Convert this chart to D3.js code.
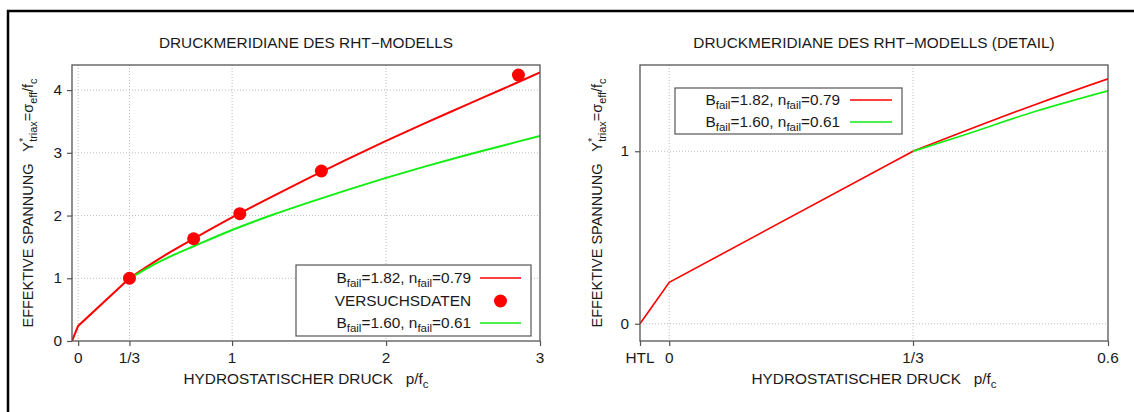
<!DOCTYPE html>
<html>
<head>
<meta charset="utf-8">
<script src="https://cdn.jsdelivr.net/npm/d3@7"></script>
<style>
  body { margin: 0; background: #fff; }
  text { font-family: "Liberation Sans", Arial, sans-serif; fill: #1a1a1a; white-space: pre; }
</style>
</head>
<body>
<div id="viz-container"></div>
<script>
// Werte
const HTL = -0.04;
const pressure = [HTL, 0, 1 / 3, 0.4, 0.5, 0.6, 0.75, 1, 1.25, 1.5, 1.75, 2, 2.25, 2.5, 2.75, 3];
const redMeridian = [0, 0.24, 1, 1.11, 1.27, 1.42, 1.63, 1.97, 2.29, 2.6, 2.9, 3.19, 3.47, 3.74, 4.01, 4.28];
const greenMeridian = [null, null, 1, 1.09, 1.23, 1.35, 1.51, 1.77, 2.0, 2.21, 2.41, 2.6, 2.78, 2.95, 3.11, 3.27];
const testPressure = [1 / 3, 0.75, 1.05, 1.58, 2.86];
const testStress = [1.0, 1.63, 2.03, 2.71, 4.24];

const leftXTicks = [0, 1 / 3, 1, 2, 3];
const leftXLabels = ['0', '1/3', '1', '2', '3'];
const leftYTicks = [0, 1, 2, 3, 4];
const rightXTicks = [HTL, 0, 1 / 3, 0.6];
const rightXLabels = ['HTL', '0', '1/3', '0.6'];
const rightYTicks = [0, 1];

const RED = '#ff0000';
const GREEN = '#11ee11';
const FS = 14.5;      // Schriftgröße
const SX = 1.06;      // Text im Original leicht horizontal gestreckt
const DOT_R = 6.5;

const svg = d3.select('#viz-container').append('svg')
  .attr('width', 1134).attr('height', 412);

// äußerer Rahmen
svg.append('rect')
  .attr('x', 8).attr('y', 11).attr('width', 1200).attr('height', 500)
  .style('fill', 'none').style('stroke', '#000').style('stroke-width', 2.5);

// Text mit Hoch-/Tiefstellungen
function richText(parent, x, y, parts, anchor, rotate) {
  const g = parent.append('g')
    .attr('transform', `translate(${x},${y}) scale(${SX},1)` + (rotate ? ' rotate(-90)' : ''));
  const text = g.append('text')
    .attr('xml:space', 'preserve')
    .attr('text-anchor', anchor || 'middle').style('font-size', FS + 'px');
  let shift = 0;
  parts.forEach(p => {
    const part = typeof p === 'string' ? { t: p } : p;
    const off = part.sub ? 4 : part.sup ? -6 : 0;
    const ts = text.append('tspan').attr('dy', off - shift).text(part.t);
    if (part.sub || part.sup) ts.style('font-size', (FS * 0.75) + 'px');
    if (part.dx) ts.attr('dx', part.dx);
    shift = off;
  });
  return text;
}

const yLabelParts = [
  'EFFEKTIVE SPANNUNG   Y', { t: '*', sup: true }, { t: 'triax', sub: true, dx: -4 },
  '=σ', { t: 'eff', sub: true }, '/f', { t: 'c', sub: true }
];
const xLabelParts = ['HYDROSTATISCHER DRUCK   p/f', { t: 'c', sub: true }];

function drawPanel(cfg) {
  const x = d3.scaleLinear().domain(cfg.xDomain).range([cfg.left, cfg.right]);
  const y = d3.scaleLinear().domain(cfg.yDomain).range([cfg.bottom, cfg.top]);
  const g = svg.append('g');

  const clipId = 'clip' + cfg.left;
  g.append('clipPath').attr('id', clipId).append('rect')
    .attr('x', cfg.left).attr('y', cfg.top)
    .attr('width', cfg.right - cfg.left).attr('height', cfg.bottom - cfg.top);

  // Gitter
  const grid = g.append('g')
    .style('stroke', '#bdbdbd').style('stroke-width', 1).style('stroke-dasharray', '1,2');
  cfg.xTicks.forEach(v => {
    const px = x(v);
    if (px <= cfg.left + 1 || px >= cfg.right - 1) return;
    grid.append('line').attr('x1', px).attr('x2', px).attr('y1', cfg.top).attr('y2', cfg.bottom);
  });
  cfg.yTicks.forEach(v => {
    const py = y(v);
    if (py >= cfg.bottom - 1 || py <= cfg.top + 1) return;
    grid.append('line').attr('x1', cfg.left).attr('x2', cfg.right).attr('y1', py).attr('y2', py);
  });

  // Achsen
  const xAxis = g.append('g').attr('transform', `translate(0,${cfg.bottom})`)
    .call(d3.axisBottom(x).tickValues(cfg.xTicks).tickFormat('').tickSize(5).tickSizeOuter(0));
  const yAxis = g.append('g').attr('transform', `translate(${cfg.left},0)`)
    .call(d3.axisLeft(y).tickValues(cfg.yTicks).tickFormat('').tickSize(5).tickSizeOuter(0));
  [xAxis, yAxis].forEach(a => {
    a.select('.domain').remove();
    a.selectAll('line').style('stroke', '#555').style('stroke-width', 1.2);
  });

  cfg.xTicks.forEach((v, i) => richText(g, x(v), 363, [cfg.xLabels[i]], 'middle'));
  cfg.yTicks.forEach(v => richText(g, cfg.tickLabelX, y(v) + 5, [String(v)], 'end'));

  // Kurven
  const curves = g.append('g').attr('clip-path', `url(#${clipId})`);
  const linePart = d3.line().x(d => x(d[0])).y(d => y(d[1])).curve(d3.curveLinear);
  const curvePart = d3.line().x(d => x(d[0])).y(d => y(d[1])).curve(d3.curveMonotoneX);
  const drawSeries = (values, color) => {
    const pts = pressure.map((p, i) => [p, values[i]]).filter(d => d[1] !== null);
    const lin = pts.filter(d => d[0] <= 1 / 3 + 1e-9);
    const cur = pts.filter(d => d[0] >= 1 / 3 - 1e-9);
    [[lin, linePart], [cur, curvePart]].forEach(([data, gen]) => {
      if (data.length < 2) return;
      curves.append('path').attr('d', gen(data))
        .style('fill', 'none').style('stroke', color).style('stroke-width', cfg.lineWidth);
    });
  };
  drawSeries(redMeridian, RED);
  drawSeries(greenMeridian, GREEN);

  if (cfg.showDots) {
    curves.selectAll('.dot').data(testPressure).enter().append('circle')
      .attr('cx', d => x(d)).attr('cy', (d, i) => y(testStress[i])).attr('r', DOT_R)
      .style('fill', RED);
  }

  // Rahmen
  g.append('rect')
    .attr('x', cfg.left).attr('y', cfg.top)
    .attr('width', cfg.right - cfg.left).attr('height', cfg.bottom - cfg.top)
    .style('fill', 'none').style('stroke', '#555').style('stroke-width', 1.3);

  // Legende
  const lg = cfg.legend;
  g.append('rect')
    .attr('x', lg.x0).attr('y', lg.y0).attr('width', lg.x1 - lg.x0).attr('height', lg.y1 - lg.y0)
    .style('fill', '#fff').style('stroke', '#555').style('stroke-width', 1.2);
  lg.rows.forEach((row, i) => {
    const cy = lg.rowY[i];
    richText(g, lg.textX, cy + 5, row.label, 'end');
    if (row.dot) {
      g.append('circle').attr('cx', (lg.lineX0 + lg.lineX1) / 2).attr('cy', cy).attr('r', DOT_R).style('fill', RED);
    } else {
      g.append('line').attr('x1', lg.lineX0).attr('x2', lg.lineX1).attr('y1', cy).attr('y2', cy)
        .style('stroke', row.color).style('stroke-width', 1.5);
    }
  });

  // Beschriftungen
  const cx = (cfg.left + cfg.right) / 2;
  richText(g, cx, 48, [cfg.title], 'middle');
  richText(g, cx, 384, xLabelParts, 'middle');
  richText(g, cfg.yLabelX, (cfg.top + cfg.bottom) / 2, yLabelParts, 'middle', true);
}

const redLabel = ['B', { t: 'fail', sub: true }, '=1.82, n', { t: 'fail', sub: true }, '=0.79'];
const greenLabel = ['B', { t: 'fail', sub: true }, '=1.60, n', { t: 'fail', sub: true }, '=0.61'];

drawPanel({
  left: 72, right: 540, top: 65, bottom: 341,
  xDomain: [HTL, 3], yDomain: [0, 4.4],
  xTicks: leftXTicks, xLabels: leftXLabels, yTicks: leftYTicks,
  tickLabelX: 62, yLabelX: 33, lineWidth: 2, showDots: true,
  title: 'DRUCKMERIDIANE DES RHT\u2212MODELLS',
  legend: {
    x0: 296, x1: 531, y0: 265, y1: 336, textX: 471, lineX0: 480, lineX1: 521,
    rowY: [278, 301, 323],
    rows: [
      { label: redLabel, color: RED },
      { label: ['VERSUCHSDATEN'], dot: true },
      { label: greenLabel, color: GREEN }
    ]
  }
});

drawPanel({
  left: 640, right: 1108, top: 65, bottom: 341,
  xDomain: [HTL, 0.6], yDomain: [-0.1, 1.5],
  xTicks: rightXTicks, xLabels: rightXLabels, yTicks: rightYTicks,
  tickLabelX: 629, yLabelX: 602, lineWidth: 1.6, showDots: false,
  title: 'DRUCKMERIDIANE DES RHT\u2212MODELLS (DETAIL)',
  legend: {
    x0: 675, x1: 902, y0: 88, y1: 134, textX: 840, lineX0: 850, lineX1: 892,
    rowY: [100, 122],
    rows: [
      { label: redLabel, color: RED },
      { label: greenLabel, color: GREEN }
    ]
  }
});
</script>
</body>
</html>
